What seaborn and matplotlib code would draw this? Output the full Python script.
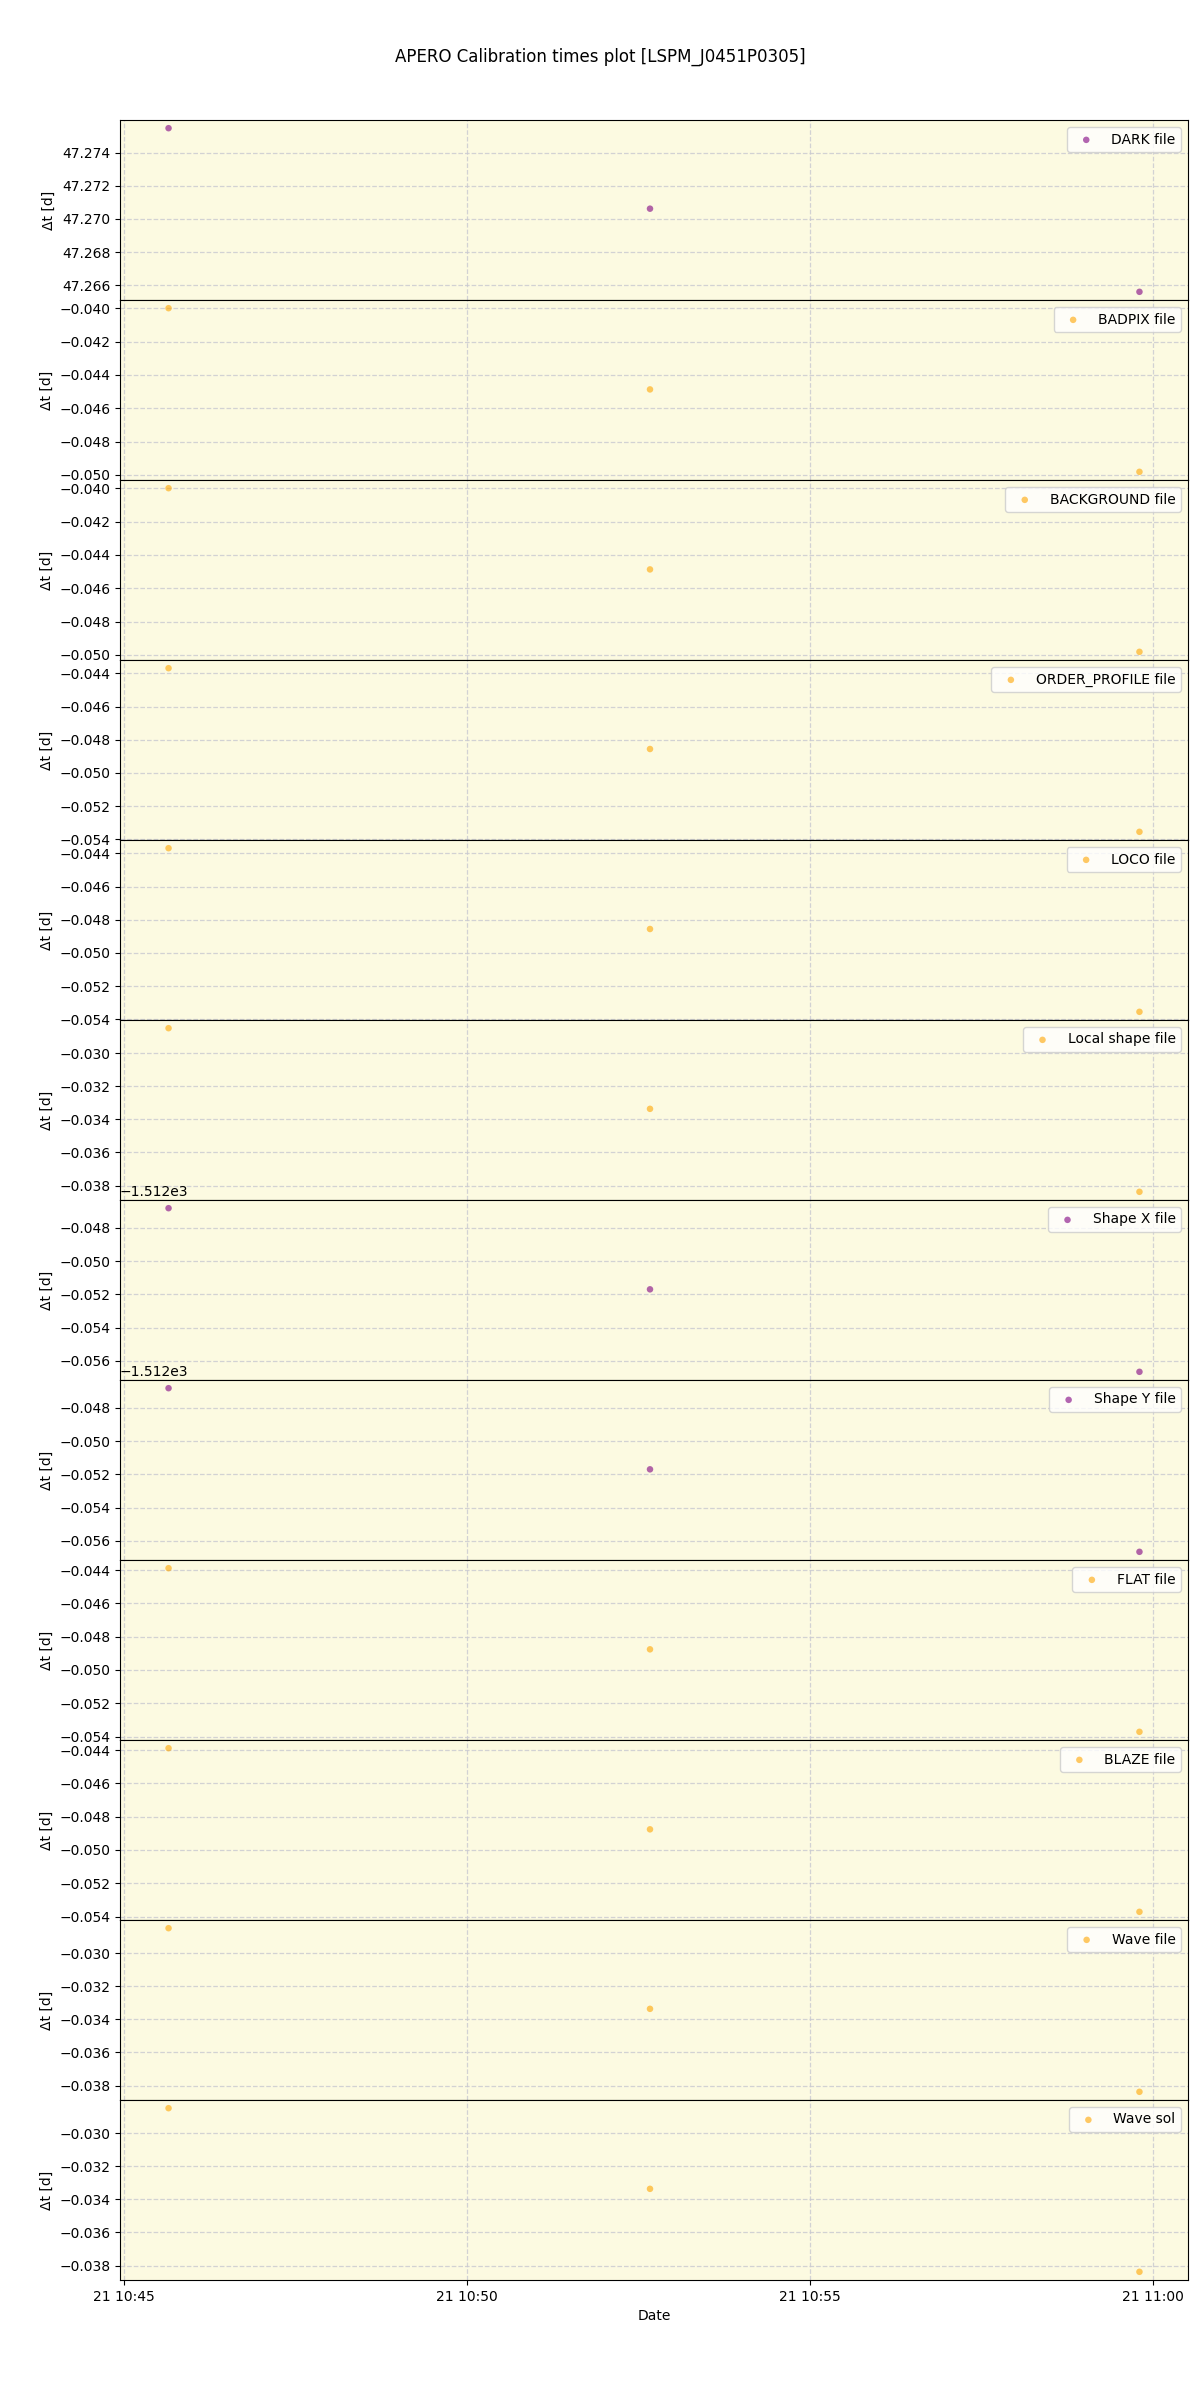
import numpy as np
import pandas as pd
import matplotlib
matplotlib.use("Agg")
import matplotlib.pyplot as plt
import matplotlib.dates as mdates
import seaborn as sns

title = "APERO Calibration times plot [LSPM_J0451P0305]"

obs_times = ["2019-10-21 10:45:39", "2019-10-21 10:52:40", "2019-10-21 10:59:48"]

labels = ["DARK file", "BADPIX file", "BACKGROUND file", "ORDER_PROFILE file",
          "LOCO file", "Local shape file", "Shape X file", "Shape Y file",
          "FLAT file", "BLAZE file", "Wave file", "Wave sol"]

dark = [47.27548, 47.27062, 47.26560]
badpix = [-0.04000, -0.04487, -0.04981]
background = [-0.04000, -0.04487, -0.04981]
order_profile = [-0.04369, -0.04856, -0.05355]
loco = [-0.04369, -0.04856, -0.05355]
local_shape = [-0.02850, -0.03337, -0.03838]
shape_x = [-1512.04683, -1512.05170, -1512.05665]
shape_y = [-1512.04683, -1512.05170, -1512.05665]
flat = [-0.04389, -0.04876, -0.05371]
blaze = [-0.04389, -0.04876, -0.05371]
wave_file = [-0.02850, -0.03337, -0.03838]
wave_sol = [-0.02850, -0.03337, -0.03838]

series = [dark, badpix, background, order_profile, loco, local_shape,
          shape_x, shape_y, flat, blaze, wave_file, wave_sol]
point_colors = ["purple", "orange", "orange", "orange", "orange", "orange",
                "purple", "purple", "orange", "orange", "orange", "orange"]

times = pd.to_datetime(obs_times)

fig, axes = plt.subplots(len(labels), 1, figsize=(12, 24), dpi=100, sharex=True)
fig.subplots_adjust(left=0.1, right=0.99, top=0.95, bottom=0.05, hspace=0)

for ax, lab, vals, col in zip(axes, labels, series, point_colors):
    df = pd.DataFrame({"time": times, "dt": vals})
    sns.scatterplot(data=df, x="time", y="dt", ax=ax, color=col, alpha=0.6,
                    s=22, edgecolor="none", label=lab)
    ax.set_facecolor("#fcfae1")
    ax.grid(True, linestyle="--", color="#c8c8d0", alpha=0.8, linewidth=0.9)
    ax.set_axisbelow(True)
    ax.set_ylabel("\u0394t [d]")
    ax.set_xlabel("")
    ax.legend(loc="upper right", fontsize=10)
    for sp in ax.spines.values():
        sp.set_color("black")

axes[-1].xaxis.set_major_locator(mdates.MinuteLocator(byminute=range(0, 60, 5)))
axes[-1].xaxis.set_major_formatter(mdates.DateFormatter("%d %H:%M"))
axes[-1].set_xlabel("Date")
fig.suptitle(title, fontsize=12)

fig.savefig("out.png", dpi=100)
